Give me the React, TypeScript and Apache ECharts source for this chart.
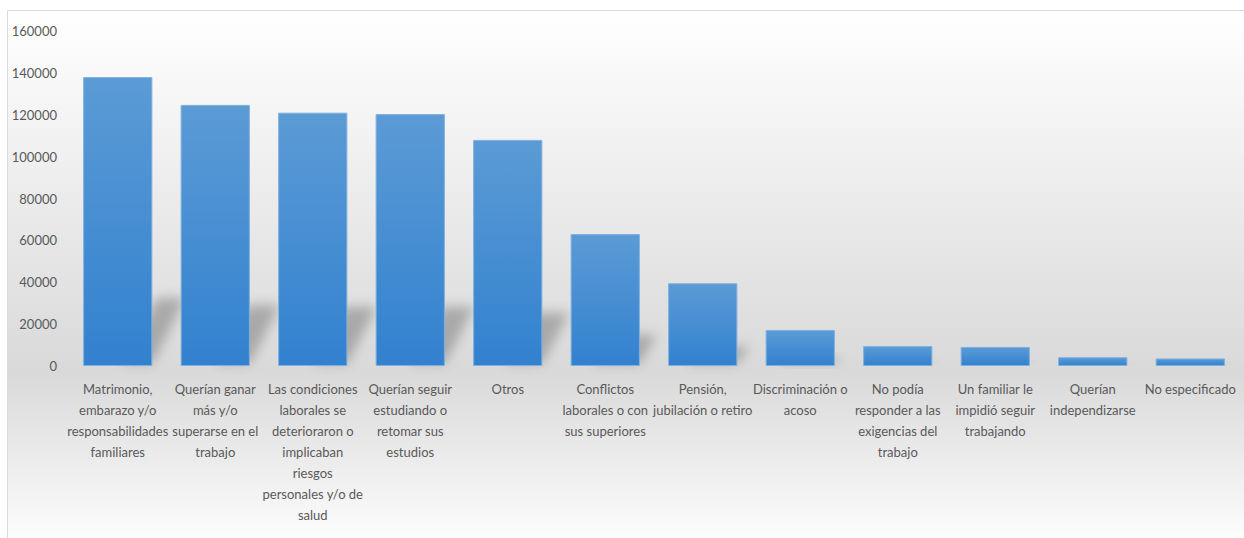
import React, { useEffect, useRef } from "react";
import * as echarts from "echarts";

const categories: string[] = [
  "Matrimonio,\nembarazo y/o\nresponsabilidades\nfamiliares",
  "Querían ganar\nmás y/o\nsuperarse en el\ntrabajo",
  "Las condiciones\nlaborales se\ndeterioraron o\nimplicaban\nriesgos\npersonales y/o de\nsalud",
  "Querían seguir\nestudiando o\nretomar sus\nestudios",
  "Otros",
  "Conflictos\nlaborales o con\nsus superiores",
  "Pensión,\njubilación o retiro",
  "Discriminación o\nacoso",
  "No podía\nresponder a las\nexigencias del\ntrabajo",
  "Un familiar le\nimpidió seguir\ntrabajando",
  "Querían\nindependizarse",
  "No especificado",
];

const values: number[] = [
  138000, 124700, 121000, 120300, 108000, 63000, 39500, 17200, 9500, 9100, 4200, 3600,
];

const yMin = 0;
const yMax = 160000;
const yInterval = 20000;

const FONT = "Lato, 'Open Sans', sans-serif";

export default function App() {
  const ref = useRef<HTMLDivElement>(null);

  useEffect(() => {
    document.body.style.margin = "0";
    const chart = echarts.init(ref.current!, null, { renderer: "svg" });

    const shadowData = values.map((v, i) => [i, v]);

    chart.setOption({
      animation: false,
      graphic: [
        {
          type: "rect",
          z: -10,
          silent: true,
          shape: { x: 7.5, y: 10.5, width: 1250, height: 540 },
          style: {
            stroke: "#d9d9d9",
            lineWidth: 1,
            fill: new echarts.graphic.LinearGradient(0, 0, 0, 1, [
              { offset: 0, color: "#ffffff" },
              { offset: 0.67, color: "#d9d9d9" },
              { offset: 1, color: "#ffffff" },
            ]),
          },
        },
      ],
      grid: { left: 69, right: 5, top: 31, bottom: 172, containLabel: false },
      xAxis: {
        type: "category",
        data: categories,
        axisLine: { show: false },
        axisTick: { show: false },
        axisLabel: {
          interval: 0,
          margin: 12,
          color: "#595959",
          fontFamily: FONT,
          fontSize: 13,
          lineHeight: 21,
          align: "center",
        },
      },
      yAxis: {
        type: "value",
        min: yMin,
        max: yMax,
        interval: yInterval,
        axisLine: { show: false },
        axisTick: { show: false },
        splitLine: { show: false },
        axisLabel: {
          margin: 12,
          color: "#595959",
          fontFamily: FONT,
          fontSize: 13,
          formatter: (v: number) => String(v),
        },
      },
      series: [
        {
          type: "custom",
          z: 1,
          silent: true,
          data: shadowData,
          encode: { x: 0, y: 1 },
          renderItem: (params: any, api: any) => {
            const idx = api.value(0);
            const val = api.value(1);
            const top = api.coord([idx, val]);
            const base = api.coord([idx, 0]);
            const band = api.size([1, 0])[0];
            const barW = band * 0.71;
            const right = base[0] + barW / 2;
            const h = base[1] - top[1];
            const sh = h * 0.235;
            const skew = sh * 0.45 + 3;
            const dx = skew + 3;
            const W = Math.max(4, barW - skew - 6);
            const by = base[1] - 3;
            return {
              type: "polygon",
              shape: {
                points: [
                  [right - dx - W, by],
                  [right - dx, by],
                  [right - dx + skew, base[1] - sh],
                  [right - dx - W + skew, base[1] - sh],
                ],
              },
              style: {
                fill: "#808080",
                shadowBlur: 12,
                shadowOffsetX: dx,
                shadowOffsetY: 0,
                shadowColor: "rgba(0,0,0,0.24)",
              },
            };
          },
        },
        {
          type: "bar",
          z: 2,
          data: values,
          barCategoryGap: "29%",
          itemStyle: {
            color: new echarts.graphic.LinearGradient(0, 0, 0, 1, [
              { offset: 0, color: "#5b9bd5" },
              { offset: 1, color: "#3281cf" },
            ]),
            borderColor: "#7eb0e0",
            borderWidth: 1,
          },
        },
      ],
    });

    return () => chart.dispose();
  }, []);

  return <div ref={ref} style={{ width: 1244, height: 538 }} />;
}
